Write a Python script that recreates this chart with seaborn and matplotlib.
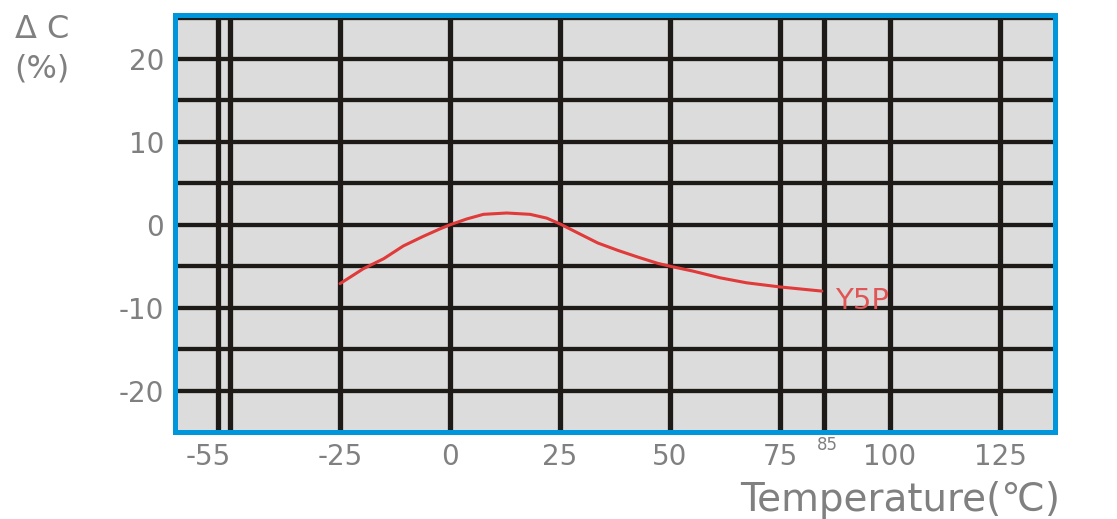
import numpy as np
import pandas as pd
import seaborn as sns
import matplotlib.pyplot as plt

# Y5P capacitance change vs temperature
temp = [-25, -19.7, -15.1, -10.6, -6.1, -2.3, 0, 3.8, 7.6, 12.9, 18.2, 22, 25,
        29.1, 33.6, 38.2, 42.7, 47.2, 50, 55.3, 61.4, 67.4, 75, 82.6, 84.5]
cap_change = [-7.1, -5.3, -4.1, -2.55, -1.4, -0.5, 0.0, 0.7, 1.26, 1.42, 1.26, 0.8, 0.1,
              -1.0, -2.2, -3.1, -3.9, -4.65, -5.0, -5.6, -6.4, -7.0, -7.5, -7.9, -8.0]

x_grid = [-52.7, -50, -25, 0, 25, 50, 75, 85, 100, 125]
y_grid = [-20, -15, -10, -5, 0, 5, 10, 15, 20, 25]
x_ticks = [-55, -25, 0, 25, 50, 75, 100, 125]
x_labels = ["-55", "-25", "0", "25", "50", "75", "100", "125"]
y_ticks = [-20, -10, 0, 10, 20]
y_labels = ["-20", "-10", "0", "10", "20"]

df = pd.DataFrame({"temp": temp, "dc": cap_change})

sns.set_style("white")
plt.rcParams["font.family"] = ["DejaVu Sans"]

gray = "#808080"
fig = plt.figure(figsize=(11.17, 5.19), dpi=100)
ax = fig.add_axes([0.1567, 0.1676, 0.7878, 0.8034])
ax.set_facecolor("#dcdcdc")

for xv in x_grid:
    ax.axvline(xv, color="#1e1a17", lw=3.8, zorder=1)
for yv in y_grid:
    ax.axhline(yv, color="#1e1a17", lw=3.1, zorder=1)

sns.lineplot(data=df, x="temp", y="dc", color="#e03a3a", lw=2.2, ax=ax, zorder=3)
ax.text(87.5, -9.2, "Y5P", color="#e05555", fontsize=21, ha="left", va="center", zorder=4)

ax.set_xlim(-62.5, 137.5)
ax.set_ylim(-25, 25.3)
ax.set_xticks(x_ticks)
ax.set_xticklabels(x_labels)
ax.set_yticks(y_ticks)
ax.set_yticklabels(y_labels)
ax.tick_params(length=0, labelsize=20, labelcolor=gray, pad=8)
ax.set_xlabel("")
ax.set_ylabel("")
ax.text(85.7, -25.5, "85", fontsize=12, color=gray, ha="center", va="top", clip_on=False)

for s in ax.spines.values():
    s.set_color("#0096dc")
    s.set_linewidth(3.6)
    s.set_zorder(5)

fig.text(0.6625, 0.016, "Temperature(℃)", fontsize=28, color=gray, ha="left", va="baseline")
fig.text(0.013, 0.927, "Δ C", fontsize=23, color=gray, ha="left", va="baseline")
fig.text(0.013, 0.85, "(%)", fontsize=23, color=gray, ha="left", va="baseline")

plt.savefig("out.png", dpi=100)
